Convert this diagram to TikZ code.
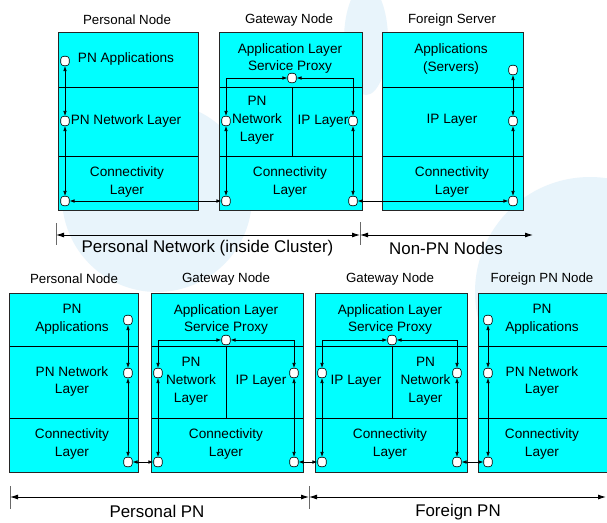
\documentclass[tikz,border=0pt]{standalone}
\usepackage{fontspec}
\setmainfont{Liberation Sans}
\usetikzlibrary{arrows.meta}
\definecolor{boxcyan}{RGB}{0,255,255}
\definecolor{haze}{RGB}{232,244,251}
\definecolor{tickgray}{RGB}{105,105,105}

\begin{document}
\begin{tikzpicture}[x=1pt,y=-1pt,
  cell/.style={draw=black, fill=boxcyan, line width=0.6pt, inner sep=0pt, outer sep=0pt, anchor=north west},
  frame/.style={draw=black!85, line width=1pt},
  lay/.style={align=center, inner sep=0pt, font=\fontsize{13.6}{17.8}\selectfont},
  hdr/.style={inner sep=0pt, font=\fontsize{13.3}{16}\selectfont},
  dimtext/.style={inner sep=0pt, font=\fontsize{16.9}{20}\selectfont},
  port/.style={draw=black, fill=white, line width=0.6pt, rounded corners=3pt, minimum width=8.5pt, minimum height=9.5pt, inner sep=0pt},
  link/.style={line width=0.7pt, {Latex[length=5pt,width=3.6pt]}-{Latex[length=5pt,width=3.6pt]}},
  span/.style={line width=0.9pt, {Latex[length=8pt,width=5pt]}-{Latex[length=8pt,width=5pt]}},
  tick/.style={draw=tickgray, line width=1pt},
]
\useasboundingbox (0,0) rectangle (607,522);
\clip (0,0) rectangle (607,522);
\fill[white] (0,0) rectangle (607,522);

% faint background shapes
\fill[haze] (157,197) circle (95pt);
\fill[haze] (590,292) circle (115pt);
\fill[haze] (366,40) ellipse (22pt and 55pt);

% ---------- upper row: Personal Node ----------
\node[cell, minimum width=140pt, minimum height=55pt] (pnA) at (58,32) {};
\node[cell, minimum width=140pt, minimum height=69pt] (pnB) at (58,87) {};
\node[cell, minimum width=140pt, minimum height=54pt] (pnC) at (58,156) {};
\draw[frame] (pnA.north west) rectangle (pnC.south east);
\node[hdr] (hPN) at (127,20) {Personal Node};
\node[lay] (tPNa) at (126,59) {PN Applications};
\node[lay] (tPNb) at (126,121) {PN Network Layer};
\node[lay] (tPNc) at (127,182) {Connectivity\\Layer};

% ---------- upper row: Gateway Node ----------
\node[cell, minimum width=143pt, minimum height=55pt] (gwA) at (219,32) {};
\node[cell, minimum width=73pt, minimum height=69pt] (gwL) at (219,87) {};
\node[cell, minimum width=70pt, minimum height=69pt] (gwR) at (292,87) {};
\node[cell, minimum width=143pt, minimum height=54pt] (gwC) at (219,156) {};
\draw[frame] (gwA.north west) rectangle (gwC.south east);
\node[hdr] (hGW) at (289,20) {Gateway Node};
\node[lay] (tGWa) at (290,58.5) {Application Layer\\Service Proxy};
\node[lay] (tGWl) at (257,120) {PN\\Network\\Layer};
\node[lay] (tGWr) at (323,121) {IP Layer};
\node[lay] (tGWc) at (290,182) {Connectivity\\Layer};

% ---------- upper row: Foreign Server ----------
\node[cell, minimum width=141pt, minimum height=55pt] (fsA) at (382,32) {};
\node[cell, minimum width=141pt, minimum height=69pt] (fsB) at (382,87) {};
\node[cell, minimum width=141pt, minimum height=54pt] (fsC) at (382,156) {};
\draw[frame] (fsA.north west) rectangle (fsC.south east);
\node[hdr] (hFS) at (452,20) {Foreign Server};
\node[lay] (tFSa) at (451,59) {Applications\\(Servers)};
\node[lay] (tFSb) at (452,120) {IP Layer};
\node[lay] (tFSc) at (452,182) {Connectivity\\Layer};

% upper row ports
\node[port] (pnP1) at (65,61) {};
\node[port] (pnP2) at (65,121) {};
\node[port] (pnP3) at (65,201) {};
\node[port] (gwT) at (292,78) {};
\node[port] (gwPL) at (226,121) {};
\node[port] (gwPR) at (353,121) {};
\node[port] (gwBL) at (226,201) {};
\node[port] (gwBR) at (353,201) {};
\node[port] (fsP1) at (513,70) {};
\node[port] (fsP2) at (513,121) {};
\node[port] (fsP3) at (513,201) {};

% upper row links
\draw[link] (pnP1) -- (pnP2);
\draw[link] (pnP2) -- (pnP3);
\draw[link] (pnP3) -- (gwBL);
\draw[link] (gwT) -| (gwPL);
\draw[link] (gwT) -| (gwPR);
\draw[link] (gwPL) -- (gwBL);
\draw[link] (gwPR) -- (gwBR);
\draw[link] (gwBR) -- (fsP3);
\draw[link] (fsP1) -- (fsP2);
\draw[link] (fsP2) -- (fsP3);

% upper span markers
\coordinate (sA) at (56,235);
\coordinate (sB) at (360,235);
\coordinate (sC) at (533,235);
\draw[tick] ([yshift=12pt]sA) -- ([yshift=-10pt]sA);
\draw[tick] ([yshift=13pt]sB) -- ([yshift=-10pt]sB);
\draw[span] (sA) -- (sB);
\draw[span] (sB) -- (sC);
\node[dimtext] (dPN) at (207.5,248.5) {Personal Network (inside Cluster)};
\node[dimtext] (dNP) at (446,248.5) {Non-PN Nodes};

% ---------- lower row: Personal Node ----------
\node[cell, minimum width=129pt, minimum height=53pt] (bpA) at (9,293) {};
\node[cell, minimum width=129pt, minimum height=72pt] (bpB) at (9,346) {};
\node[cell, minimum width=129pt, minimum height=54pt] (bpC) at (9,418) {};
\draw[frame] (bpA.north west) rectangle (bpC.south east);
\node[hdr] (hBP) at (74,279) {Personal Node};
\node[lay] (tBPa) at (72,319.5) {PN\\Applications};
\node[lay] (tBPb) at (72,381.5) {PN Network\\Layer};
\node[lay] (tBPc) at (72,444) {Connectivity\\Layer};

% ---------- lower row: first Gateway Node ----------
\node[cell, minimum width=152pt, minimum height=53pt] (bgA) at (151,293) {};
\node[cell, minimum width=75pt, minimum height=72pt] (bgL) at (151,346) {};
\node[cell, minimum width=77pt, minimum height=72pt] (bgR) at (226,346) {};
\node[cell, minimum width=152pt, minimum height=54pt] (bgC) at (151,418) {};
\draw[frame] (bgA.north west) rectangle (bgC.south east);
\node[hdr] (hBG) at (226,279) {Gateway Node};
\node[lay] (tBGa) at (226,319.5) {Application Layer\\Service Proxy};
\node[lay] (tBGl) at (191,381) {PN\\Network\\Layer};
\node[lay] (tBGr) at (261,381) {IP Layer};
\node[lay] (tBGc) at (226,444) {Connectivity\\Layer};

% ---------- lower row: second Gateway Node ----------
\node[cell, minimum width=152pt, minimum height=53pt] (bhA) at (315,293) {};
\node[cell, minimum width=77pt, minimum height=72pt] (bhL) at (315,346) {};
\node[cell, minimum width=75pt, minimum height=72pt] (bhR) at (392,346) {};
\node[cell, minimum width=152pt, minimum height=54pt] (bhC) at (315,418) {};
\draw[frame] (bhA.north west) rectangle (bhC.south east);
\node[hdr] (hBH) at (390,279) {Gateway Node};
\node[lay] (tBHa) at (390,319.5) {Application Layer\\Service Proxy};
\node[lay] (tBHl) at (356,381) {IP Layer};
\node[lay] (tBHr) at (425.5,381) {PN\\Network\\Layer};
\node[lay] (tBHc) at (390,444) {Connectivity\\Layer};

% ---------- lower row: Foreign PN Node ----------
\node[cell, minimum width=131pt, minimum height=53pt] (bfA) at (478,293) {};
\node[cell, minimum width=131pt, minimum height=72pt] (bfB) at (478,346) {};
\node[cell, minimum width=131pt, minimum height=54pt] (bfC) at (478,418) {};
\draw[frame] (bfA.north west) rectangle (bfC.south east);
\node[hdr] (hBF) at (542,279) {Foreign PN Node};
\node[lay] (tBFa) at (542,319.5) {PN\\Applications};
\node[lay] (tBFb) at (542,381.5) {PN Network\\Layer};
\node[lay] (tBFc) at (542,444) {Connectivity\\Layer};

% lower row ports
\node[port] (bpP1) at (128,320) {};
\node[port] (bpP2) at (128,373) {};
\node[port] (bpP3) at (128,462) {};
\node[port] (bgT) at (226,340) {};
\node[port] (bgPL) at (158,373) {};
\node[port] (bgPR) at (294,373) {};
\node[port] (bgBL) at (158,462) {};
\node[port] (bgBR) at (294,462) {};
\node[port] (bhT) at (392,340) {};
\node[port] (bhPL) at (322,373) {};
\node[port] (bhPR) at (457,373) {};
\node[port] (bhBL) at (322,462) {};
\node[port] (bhBR) at (457,462) {};
\node[port] (bfP1) at (488,320) {};
\node[port] (bfP2) at (488,373) {};
\node[port] (bfP3) at (488,462) {};

% lower row links
\draw[link] (bpP1) -- (bpP2);
\draw[link] (bpP2) -- (bpP3);
\draw[link] (bpP3) -- (bgBL);
\draw[link] (bgT) -| (bgPL);
\draw[link] (bgT) -| (bgPR);
\draw[link] (bgPL) -- (bgBL);
\draw[link] (bgPR) -- (bgBR);
\draw[link] (bgBR) -- (bhBL);
\draw[link] (bhT) -| (bhPL);
\draw[link] (bhT) -| (bhPR);
\draw[link] (bhPL) -- (bhBL);
\draw[link] (bhPR) -- (bhBR);
\draw[link] (bhBR) -- (bfP3);
\draw[link] (bfP1) -- (bfP2);
\draw[link] (bfP2) -- (bfP3);

% lower span markers
\coordinate (sD) at (10,497);
\coordinate (sE) at (309,497);
\coordinate (sF) at (606,497);
\draw[tick] ([yshift=11pt]sD) -- ([yshift=-12pt]sD);
\draw[tick] ([yshift=11pt]sE) -- ([yshift=-12pt]sE);
\draw[span] (sD) -- (sE);
\draw[span] (sE) -- (sF);
\node[dimtext] (dPP) at (157,511.5) {Personal PN};
\node[dimtext] (dFP) at (458,512) {Foreign PN};
\end{tikzpicture}
\end{document}
